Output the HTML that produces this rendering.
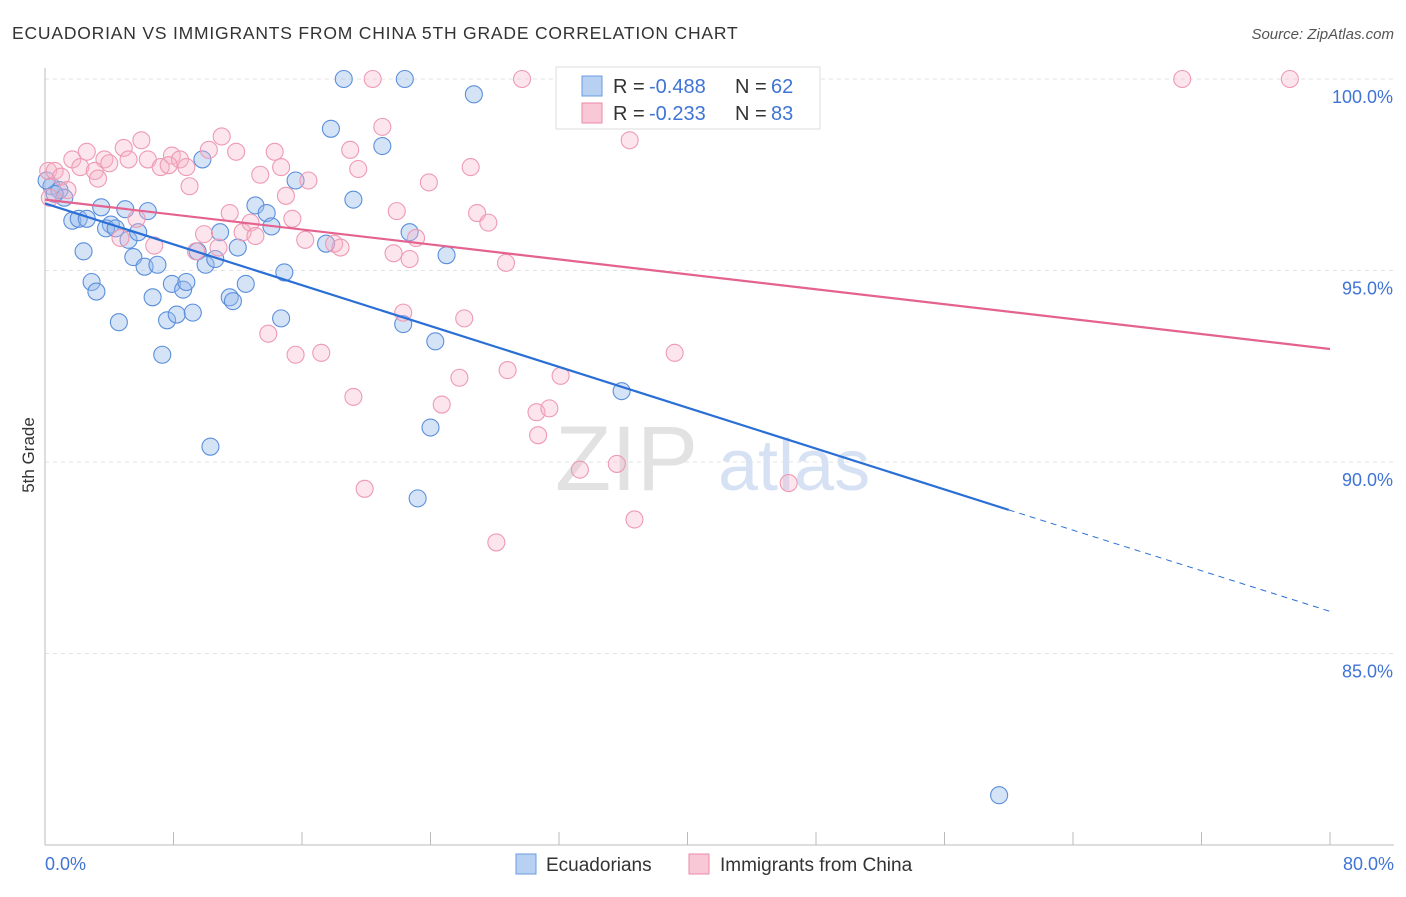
<!DOCTYPE html>
<html><head><meta charset="utf-8"><style>
body{margin:0;background:#fff;font-family:"Liberation Sans",sans-serif}
svg text{font-family:"Liberation Sans",sans-serif}
</style></head><body>
<svg id="c" width="1406" height="892" xmlns="http://www.w3.org/2000/svg">
<text x="12" y="39" font-size="17.5" letter-spacing="0.8" fill="#333">ECUADORIAN VS IMMIGRANTS FROM CHINA 5TH GRADE CORRELATION CHART</text>
<text x="1394" y="39" font-size="15" fill="#555" text-anchor="end" font-style="italic">Source: ZipAtlas.com</text>
<text transform="translate(34,455) rotate(-90)" font-size="17" fill="#333" text-anchor="middle">5th Grade</text>
<g id="grid"></g><g id="wm"><text x="555" y="490" font-size="92" fill="#e2e2e2" font-family="Liberation Serif">ZIP</text><text x="718" y="490" font-size="72" fill="#d6e2f4">atlas</text></g>
<g id="pts"></g><g id="lines"></g>
<g>
<rect x="556" y="67" width="264" height="62" fill="#fff" stroke="#ddd"/>
<rect x="582" y="76" width="20" height="20" fill="#b8d1f3" stroke="#6a9be0"/>
<rect x="582" y="103" width="20" height="20" fill="#f9c8d6" stroke="#eb8aa8"/>
<text y="93" font-size="20" fill="#333"><tspan x="613">R =</tspan><tspan x="649" fill="#3f74d6">-0.488</tspan><tspan x="735">N =</tspan><tspan x="771" fill="#3f74d6">62</tspan></text>
<text y="120" font-size="20" fill="#333"><tspan x="613">R =</tspan><tspan x="649" fill="#3f74d6">-0.233</tspan><tspan x="735">N =</tspan><tspan x="771" fill="#3f74d6">83</tspan></text>
</g>
<g>
<rect x="516" y="854" width="20" height="20" fill="#b8d1f3" stroke="#6a9be0"/>
<text x="546" y="871" font-size="19" fill="#333">Ecuadorians</text>
<rect x="689" y="854" width="20" height="20" fill="#f9c8d6" stroke="#eb8aa8"/>
<text x="720" y="871" font-size="19" fill="#333">Immigrants from China</text>
</g>
</svg>
<script>
const yTicks=[100,95,90,85];
const xTickLabels=["0.0%","80.0%"];
const blueX=[18.6,22.4,26.7,17.8,21.0,9.8,15.6,19.2,0.4,0.9,1.2,0.6,1.7,2.1,2.6,3.5,5.0,6.4,4.1,3.8,4.4,5.2,5.8,2.4,5.5,6.2,7.0,2.9,3.2,4.6,6.7,7.6,8.2,7.9,8.6,8.8,9.2,7.3,9.5,10.0,10.6,10.9,12.0,11.5,11.7,12.5,13.1,13.8,14.1,14.9,14.7,10.3,17.5,22.7,25.0,22.3,24.3,24.0,23.2,35.9,59.4,0.1];
const blueY=[100,100,99.6,98.7,98.25,97.9,97.35,96.85,97.2,97.1,96.9,97.0,96.3,96.35,96.35,96.65,96.6,96.55,96.2,96.1,96.1,95.8,96.0,95.5,95.35,95.1,95.15,94.7,94.45,93.65,94.3,93.7,93.85,94.65,94.5,94.7,93.9,92.8,95.5,95.15,95.3,96.0,95.6,94.3,94.2,94.65,96.7,96.5,96.15,94.95,93.75,90.4,95.7,96.0,95.4,93.6,93.15,90.9,89.05,91.85,81.3,97.35];
const pinkX=[20.4,29.7,32.9,41.0,70.8,77.5,36.4,21.0,11.0,6.0,4.9,2.6,1.7,3.7,5.2,6.4,2.2,3.1,3.3,4.0,7.2,7.9,8.4,7.7,8.8,9.0,10.2,11.9,14.3,14.7,13.4,16.4,15.0,19.0,19.5,23.9,26.5,26.9,27.6,21.9,11.5,12.3,12.8,13.1,15.4,16.2,18.0,18.4,21.7,22.7,23.1,28.7,9.9,10.8,5.7,4.7,6.8,9.4,0.2,0.6,1.0,1.4,0.3,13.9,15.6,17.2,22.3,26.1,25.8,28.8,32.1,39.2,19.2,24.7,30.6,31.4,30.7,33.3,35.6,19.9,36.7,28.1,46.3];
const pinkY=[100,100,100,99.85,100,100,98.4,98.75,98.5,98.4,98.2,98.1,97.9,97.9,97.9,97.9,97.7,97.6,97.4,97.8,97.7,98.0,97.9,97.75,97.7,97.2,98.15,98.1,98.1,97.7,97.5,97.35,96.95,98.15,97.65,97.3,97.7,96.5,96.25,96.55,96.5,96.0,96.25,95.9,96.35,95.8,95.7,95.6,95.45,95.3,95.85,95.2,95.95,95.6,96.35,95.85,95.65,95.5,97.6,97.6,97.45,97.1,96.9,93.35,92.8,92.85,93.9,93.75,92.2,92.4,92.25,92.85,91.7,91.5,91.3,91.4,90.7,89.8,89.95,89.3,88.5,87.9,89.45];
const blueTrend=[96.75,88.75,86.1];
const blueTrendX=[0,60,80];
const pinkTrend=[96.85,92.95];
const sx=v=>45+v*(1285/80);
const sy=v=>79+(100-v)*38.3;
const NS="http://www.w3.org/2000/svg";
function mk(t,a,p){const e=document.createElementNS(NS,t);for(const k in a)e.setAttribute(k,a[k]);p.appendChild(e);return e;}
const g=document.getElementById('grid');
yTicks.forEach(t=>{
 const l=mk('line',{x1:45,x2:1394,y1:sy(t),y2:sy(t),stroke:'#e3e3e3','stroke-dasharray':'4 4'},g);
 
 
 const tx=mk('text',{x:1393,y:sy(t)+24,'font-size':18,fill:'#3f74d6','text-anchor':'end'},g);
 tx.textContent=t.toFixed(1)+'%';
 
 
});
const ax=mk('line',{x1:45,x2:45,y1:68,y2:845,stroke:'#bbb'},g);


const bx=mk('line',{x1:45,x2:1394,y1:845,y2:845,stroke:'#bbb'},g);


for(let i=0;i<=10;i++){const t=mk('line',{x1:sx(i*8),x2:sx(i*8),y1:832,y2:845,stroke:'#bbb'},g);
 
 }
[[0,'start',45],[1,'end',1394]].forEach(([i,a,x])=>{const t=mk('text',{x:x,y:870,'font-size':18,fill:'#3f74d6','text-anchor':a},g);t.textContent=xTickLabels[i];
 
 });
const p=document.getElementById('pts');
blueX.forEach((v,i)=>{const c=mk('circle',{cx:sx(v),cy:sy(blueY[i]),r:8.5,fill:'rgba(150,186,236,0.4)',stroke:'#5b8fdc','stroke-width':1.1},p);
 
 });
pinkX.forEach((v,i)=>{const c=mk('circle',{cx:sx(v),cy:sy(pinkY[i]),r:8.5,fill:'rgba(246,180,200,0.35)',stroke:'#ee9ab4','stroke-width':1.1},p);
 
 });
const L=document.getElementById('lines');
const b1=mk('line',{x1:sx(blueTrendX[0]),y1:sy(blueTrend[0]),x2:sx(blueTrendX[1]),y2:sy(blueTrend[1]),stroke:'#2a6fd6','stroke-width':2.2},L);


const b2=mk('line',{x1:sx(blueTrendX[1]),y1:sy(blueTrend[1]),x2:sx(blueTrendX[2]),y2:sy(blueTrend[2]),stroke:'#2a6fd6','stroke-width':1,'stroke-dasharray':'6 5'},L);


const p1=mk('line',{x1:sx(0),y1:sy(pinkTrend[0]),x2:sx(80),y2:sy(pinkTrend[1]),stroke:'#e4628f','stroke-width':2.2},L);


</script>
</body></html>
